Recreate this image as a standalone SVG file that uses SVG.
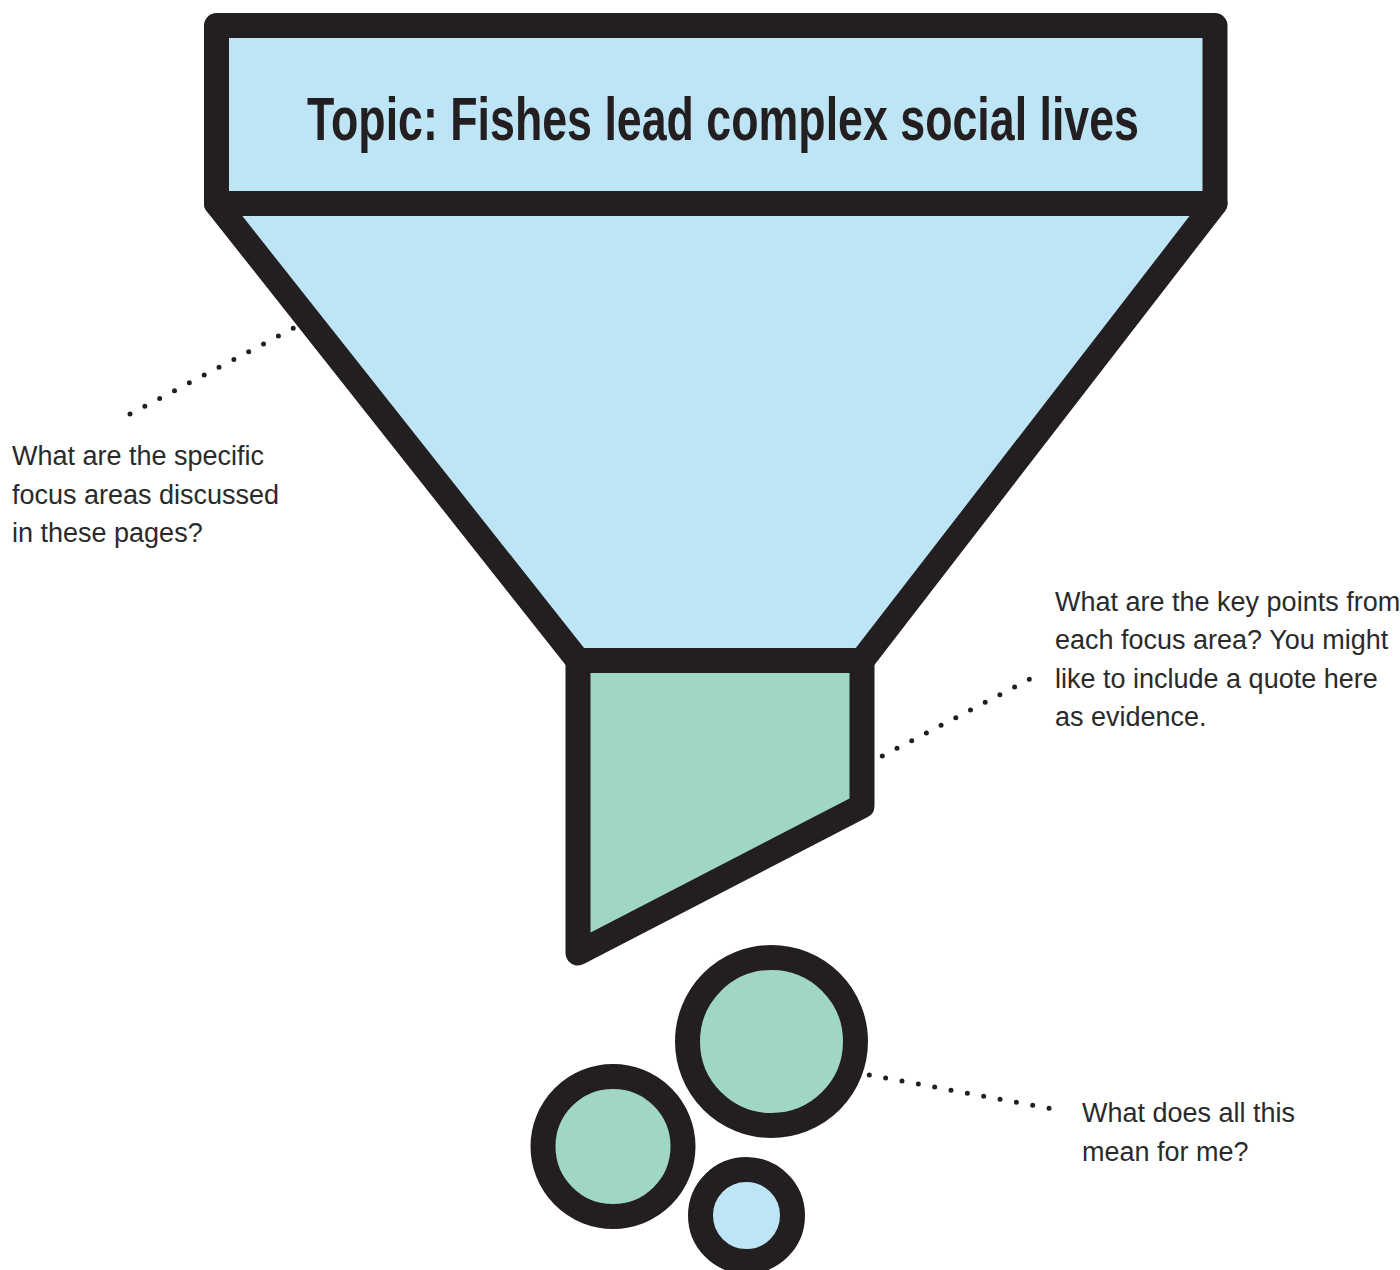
<svg xmlns="http://www.w3.org/2000/svg" width="1400" height="1270" viewBox="0 0 1400 1270">
  <style>
    .shape { stroke: #231f20; stroke-width: 25; stroke-linejoin: round; }
    .blue { fill: #bde5f6; }
    .green { fill: #a0d6c4; }
    .dots { fill: none; stroke: #231f20; stroke-width: 5; stroke-linecap: round; }
    .label { font-family: "Liberation Sans", Arial, sans-serif; font-size: 27px; fill: #2b2a2a; }
    .title { font-family: "Liberation Sans Narrow", "Liberation Sans", Arial, sans-serif; font-size: 62px; font-weight: bold; fill: #231f20; }
  </style>
  <rect width="1400" height="1270" fill="#ffffff"/>
  <g id="funnel-cone">
    <path class="shape blue" d="M216.5,203.5 L1215,203.5 L862,660.5 L578,660.5 Z"/>
  </g>
  <g id="funnel-neck">
    <path class="shape green" d="M578,660.5 L862,660.5 L862,806 L578,953 Z"/>
  </g>
  <g id="topic">
    <rect class="shape blue" x="216.5" y="25.5" width="998.5" height="178"/>
    <text class="title" transform="translate(307,140) scale(0.65,1)" x="0" y="0" textLength="1280" lengthAdjust="spacingAndGlyphs">Topic: Fishes lead complex social lives</text>
  </g>
  <g id="circle-large">
    <circle class="shape green" cx="771.5" cy="1041.5" r="84"/>
  </g>
  <g id="circle-medium">
    <circle class="shape green" cx="613" cy="1146.5" r="70"/>
  </g>
  <g id="circle-small">
    <circle class="shape blue" cx="746.5" cy="1215.5" r="46"/>
  </g>
  <g id="connectors">
    <line class="dots" x1="130" y1="414" x2="293.6" y2="328.1" stroke-dasharray="0 16.76"/>
    <line class="dots" x1="882.3" y1="756" x2="1029.5" y2="679.2" stroke-dasharray="0 16.58"/>
    <line class="dots" x1="869.3" y1="1075" x2="1049.3" y2="1108.35" stroke-dasharray="0 16.62"/>
  </g>
  <g id="label-focus">
    <text class="label" x="12" y="465">What are the specific</text>
    <text class="label" x="12" y="504">focus areas discussed</text>
    <text class="label" x="12" y="542">in these pages?</text>
  </g>
  <g id="label-key-points">
    <text class="label" x="1055" y="611">What are the key points from</text>
    <text class="label" x="1055" y="649">each focus area? You might</text>
    <text class="label" x="1055" y="688">like to include a quote here</text>
    <text class="label" x="1055" y="726">as evidence.</text>
  </g>
  <g id="label-meaning">
    <text class="label" x="1082" y="1122">What does all this</text>
    <text class="label" x="1082" y="1161">mean for me?</text>
  </g>
</svg>
